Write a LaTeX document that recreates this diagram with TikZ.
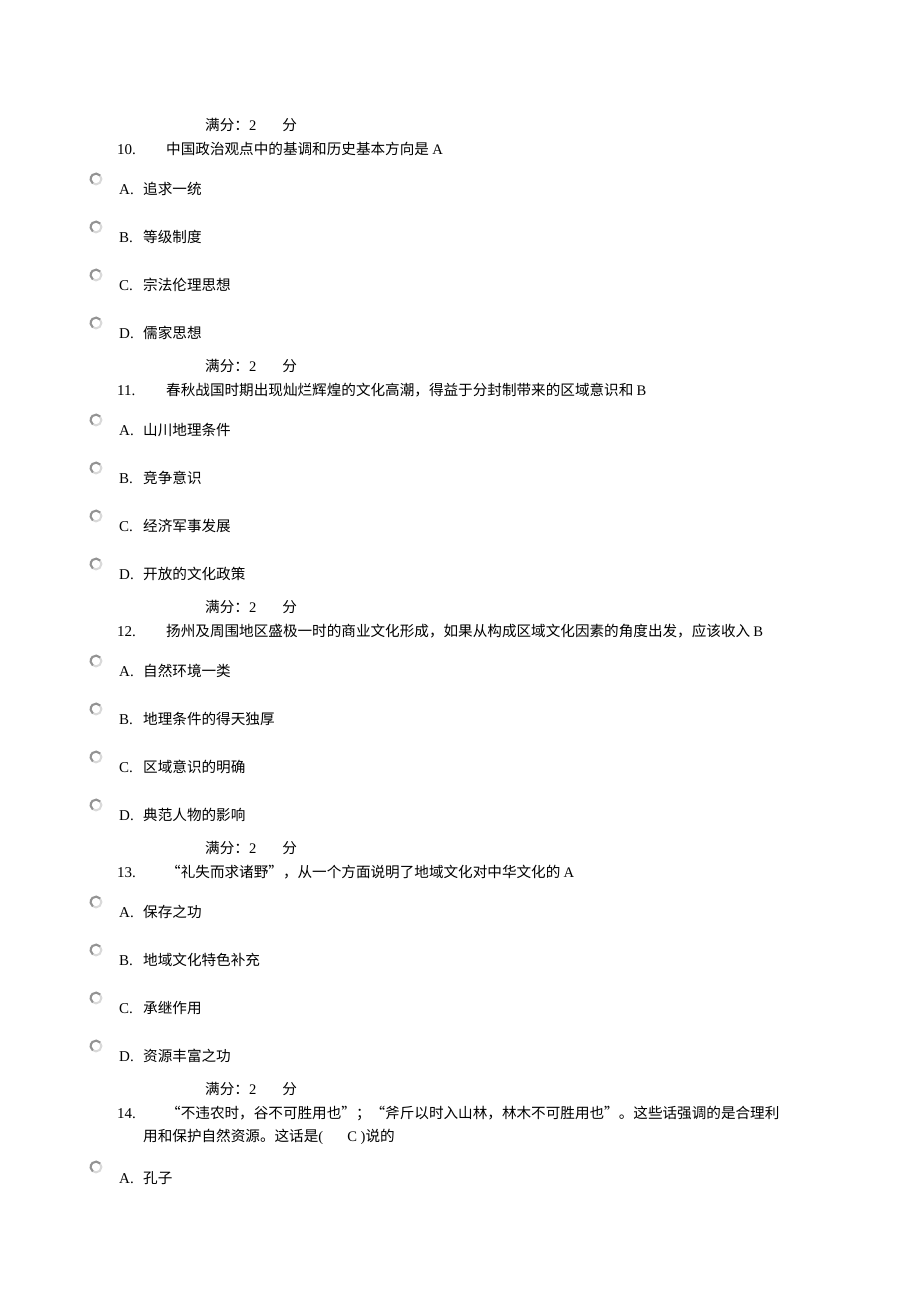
\documentclass[tikz,border=0pt]{standalone}
\usepackage{fontspec}
\setmainfont{Liberation Serif}
\newfontfamily\cjk{Noto Sans CJK SC}
\tikzset{
  radio/.style={circle,minimum size=16pt,inner sep=0pt,
    path picture={
      \draw[gray!30,line width=2pt] (path picture bounding box.center) circle (5.4pt);
      \draw[gray!85,line width=2pt] ([shift={(40:5.4pt)}]path picture bounding box.center)
        arc[start angle=40,end angle=235,radius=5.4pt];}},
  lat/.style={anchor=base west,inner sep=0pt,font=\fontsize{15}{17}\selectfont},
  txt/.style={anchor=base west,inner sep=0pt,font=\fontsize{14.6}{17}\selectfont\cjk},
}
\begin{document}
\begin{tikzpicture}[x=1pt,y=-1pt]
\useasboundingbox[fill=white] (0,0) rectangle (920,1302);
\def\xr{96};\def\xl{119};\def\xt{143};\def\xn{117};\def\xq{166};\def\xs{205};

% question 10
\node[txt] (s10) at (\xs,130) {满分：\rm 2\hspace{26pt}\cjk 分};
\node[lat] (n10) at (\xn,154) {10.};
\node[txt] (q10) at (\xq,154) {中国政治观点中的基调和历史基本方向是 \rm A};
\node[radio] (r10a) at (\xr,179) {}; \node[lat] (l10a) at (\xl,194) {A.}; \node[txt] (o10a) at (\xt,194) {追求一统};
\node[radio] (r10b) at (\xr,227) {}; \node[lat] (l10b) at (\xl,242) {B.}; \node[txt] (o10b) at (\xt,242) {等级制度};
\node[radio] (r10c) at (\xr,275) {}; \node[lat] (l10c) at (\xl,290) {C.}; \node[txt] (o10c) at (\xt,290) {宗法伦理思想};
\node[radio] (r10d) at (\xr,323) {}; \node[lat] (l10d) at (\xl,338) {D.}; \node[txt] (o10d) at (\xt,338) {儒家思想};

% question 11
\node[txt] (s11) at (\xs,371) {满分：\rm 2\hspace{26pt}\cjk 分};
\node[lat] (n11) at (\xn,395) {11.};
\node[txt] (q11) at (\xq,395) {春秋战国时期出现灿烂辉煌的文化高潮，得益于分封制带来的区域意识和 \rm B};
\node[radio] (r11a) at (\xr,420) {}; \node[lat] (l11a) at (\xl,435) {A.}; \node[txt] (o11a) at (\xt,435) {山川地理条件};
\node[radio] (r11b) at (\xr,468) {}; \node[lat] (l11b) at (\xl,483) {B.}; \node[txt] (o11b) at (\xt,483) {竞争意识};
\node[radio] (r11c) at (\xr,516) {}; \node[lat] (l11c) at (\xl,531) {C.}; \node[txt] (o11c) at (\xt,531) {经济军事发展};
\node[radio] (r11d) at (\xr,564) {}; \node[lat] (l11d) at (\xl,579) {D.}; \node[txt] (o11d) at (\xt,579) {开放的文化政策};

% question 12
\node[txt] (s12) at (\xs,612) {满分：\rm 2\hspace{26pt}\cjk 分};
\node[lat] (n12) at (\xn,636) {12.};
\node[txt] (q12) at (\xq,636) {扬州及周围地区盛极一时的商业文化形成，如果从构成区域文化因素的角度出发，应该收入 \rm B};
\node[radio] (r12a) at (\xr,661) {}; \node[lat] (l12a) at (\xl,676) {A.}; \node[txt] (o12a) at (\xt,676) {自然环境一类};
\node[radio] (r12b) at (\xr,709) {}; \node[lat] (l12b) at (\xl,724) {B.}; \node[txt] (o12b) at (\xt,724) {地理条件的得天独厚};
\node[radio] (r12c) at (\xr,757) {}; \node[lat] (l12c) at (\xl,772) {C.}; \node[txt] (o12c) at (\xt,772) {区域意识的明确};
\node[radio] (r12d) at (\xr,805) {}; \node[lat] (l12d) at (\xl,820) {D.}; \node[txt] (o12d) at (\xt,820) {典范人物的影响};

% question 13
\node[txt] (s13) at (\xs,853) {满分：\rm 2\hspace{26pt}\cjk 分};
\node[lat] (n13) at (\xn,877) {13.};
\node[txt] (q13) at (\xq,877) {“礼失而求诸野”，从一个方面说明了地域文化对中华文化的 \rm A};
\node[radio] (r13a) at (\xr,902) {}; \node[lat] (l13a) at (\xl,917) {A.}; \node[txt] (o13a) at (\xt,917) {保存之功};
\node[radio] (r13b) at (\xr,950) {}; \node[lat] (l13b) at (\xl,965) {B.}; \node[txt] (o13b) at (\xt,965) {地域文化特色补充};
\node[radio] (r13c) at (\xr,998) {}; \node[lat] (l13c) at (\xl,1013) {C.}; \node[txt] (o13c) at (\xt,1013) {承继作用};
\node[radio] (r13d) at (\xr,1046) {}; \node[lat] (l13d) at (\xl,1061) {D.}; \node[txt] (o13d) at (\xt,1061) {资源丰富之功};

% question 14
\node[txt] (s14) at (\xs,1094) {满分：\rm 2\hspace{26pt}\cjk 分};
\node[lat] (n14) at (\xn,1118) {14.};
\node[txt] (q14) at (\xq,1118) {“不违农时，谷不可胜用也”；“斧斤以时入山林，林木不可胜用也”。这些话强调的是合理利};
\node[txt] (q14b) at (\xt,1141) {用和保护自然资源。这话是\rm (\hspace{24pt}C )\cjk 说的};
\node[radio] (r14a) at (\xr,1167) {}; \node[lat] (l14a) at (\xl,1183) {A.}; \node[txt] (o14a) at (\xt,1183) {孔子};
\end{tikzpicture}
\end{document}
